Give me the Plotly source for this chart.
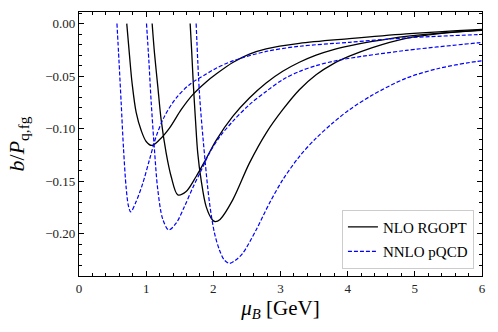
import plotly.graph_objects as go

# NLO RGOPT (black solid) - three curves
rg1_mu = [0.711, 0.7515, 0.791, 0.851, 0.925, 1.000, 1.084, 1.198, 1.347, 1.521, 1.694, 1.893, 2.042,
          2.289, 2.537, 2.786, 3.281, 4.025, 4.869, 5.930, 6.0]
rg1_b = [0.0, -0.0300, -0.0570, -0.0845, -0.1015, -0.1121, -0.1159, -0.1105, -0.0994, -0.0819, -0.0676, -0.0555, -0.0480,
         -0.0370, -0.0290, -0.0240, -0.0188, -0.0143, -0.0098, -0.0057, -0.0055]

rg2_mu = [1.089, 1.1235, 1.173, 1.223, 1.298, 1.372, 1.471, 1.595, 1.744, 1.893, 2.042, 2.289, 2.537,
          2.786, 3.033, 3.281, 3.530, 3.777, 4.025, 4.368, 4.869, 5.930, 6.0]
rg2_b = [0.0, -0.0279, -0.0597, -0.0914, -0.1232, -0.1454, -0.1629, -0.1597, -0.1454, -0.1285, -0.1110, -0.0883, -0.0708,
         -0.0565, -0.0454, -0.0368, -0.0300, -0.0250, -0.0212, -0.0170, -0.0121, -0.0064, -0.0062]

rg3_mu = [1.655, 1.679, 1.704, 1.734, 1.768, 1.818, 1.893, 1.991, 2.030, 2.100, 2.289, 2.537, 2.786,
          3.033, 3.281, 3.530, 3.777, 4.025, 4.368, 4.869, 5.365, 5.930, 6.0]
rg3_b = [0.0, -0.0279, -0.0597, -0.0914, -0.1232, -0.1486, -0.1740, -0.1870, -0.1883, -0.1862, -0.1676, -0.1327, -0.1041,
         -0.0819, -0.0629, -0.0486, -0.0385, -0.0310, -0.0228, -0.0140, -0.0095, -0.0067, -0.0065]

# NNLO pQCD (blue dashed) - three curves
pq1_mu = [0.565, 0.595, 0.628, 0.662, 0.702, 0.735, 0.770, 0.851, 0.950, 1.049, 1.149, 1.272, 1.446,
          1.644, 1.893, 2.042, 2.289, 2.786, 3.281, 4.025, 4.869, 5.930, 6.0]
pq1_b = [0.0, -0.0350, -0.0756, -0.1180, -0.1560, -0.1730, -0.1790, -0.1692, -0.1518, -0.1295, -0.1073, -0.0883, -0.0708,
         -0.0581, -0.0480, -0.0425, -0.0355, -0.0265, -0.0216, -0.0178, -0.0136, -0.0105, -0.0103]

pq2_mu = [1.005, 1.040, 1.074, 1.1235, 1.173, 1.247, 1.336, 1.446, 1.570, 1.694, 1.818, 1.942, 2.091,
          2.289, 2.537, 2.786, 3.033, 3.281, 3.530, 3.777, 4.025, 4.869, 5.930, 6.0]
pq2_b = [0.0, -0.0350, -0.0740, -0.1200, -0.1580, -0.1860, -0.1962, -0.1898, -0.1740, -0.1560, -0.1398, -0.1232, -0.1080,
         -0.0930, -0.0771, -0.0645, -0.0533, -0.0455, -0.0400, -0.0360, -0.0330, -0.0255, -0.0184, -0.0180]

pq3_mu = [1.744, 1.793, 1.853, 1.942, 2.020, 2.091, 2.160, 2.240, 2.330, 2.438, 2.637, 2.835, 3.033,
          3.281, 3.530, 3.777, 4.025, 4.368, 4.869, 5.365, 5.930, 6.0]
pq3_b = [0.0, -0.0660, -0.1136, -0.1700, -0.2000, -0.2152, -0.2245, -0.2280, -0.2250, -0.2184, -0.1962, -0.1708, -0.1486,
         -0.1264, -0.1089, -0.0946, -0.0819, -0.0680, -0.0520, -0.0425, -0.0359, -0.0355]

xticks = [0, 1, 2, 3, 4, 5, 6]
yticks = [0.0, -0.05, -0.10, -0.15, -0.20]

SERIF = "Liberation Serif"

fig = go.Figure()

rg = [(rg1_mu, rg1_b), (rg2_mu, rg2_b), (rg3_mu, rg3_b)]
pq = [(pq1_mu, pq1_b), (pq2_mu, pq2_b), (pq3_mu, pq3_b)]

for i, (x, y) in enumerate(rg):
    fig.add_trace(go.Scatter(
        x=x, y=y, mode="lines", name="NLO RGOPT",
        line=dict(color="black", width=1.3, shape="spline", smoothing=0.9),
        showlegend=(i == 0), legendgroup="rg",
    ))

for i, (x, y) in enumerate(pq):
    fig.add_trace(go.Scatter(
        x=x, y=y, mode="lines", name="NNLO pQCD",
        line=dict(color="#0000ff", width=1.2, dash="4px,2px", shape="spline", smoothing=0.9),
        showlegend=(i == 0), legendgroup="pq",
    ))

axis_common = dict(
    showgrid=False, zeroline=False,
    showline=True, linecolor="black", linewidth=1.2, mirror="allticks",
    ticks="inside", ticklen=5, tickwidth=1, tickcolor="black",
    tickfont=dict(family=SERIF, size=13, color="#222"),
)

fig.update_xaxes(
    range=[0, 6], tickvals=xticks,
    minor=dict(dtick=0.2, ticks="inside", ticklen=2.5, tickcolor="black"),
    title=dict(text="<i>μ</i><sub><i>B</i></sub> [GeV]", font=dict(family=SERIF, size=21, color="black"), standoff=3),
    **axis_common,
)
fig.update_yaxes(
    range=[-0.24, 0.011], tickvals=yticks, tickformat=".2f",
    minor=dict(dtick=0.01, ticks="inside", ticklen=2.5, tickcolor="black"),
    title=dict(text="<i>b</i>/<i>P</i><sub>q,fg</sub>", font=dict(family=SERIF, size=22, color="black"), standoff=14),
    **axis_common,
)

fig.update_layout(
    width=498, height=332,
    margin=dict(l=79, r=16, t=12, b=56),
    paper_bgcolor="white", plot_bgcolor="white",
    showlegend=True,
    legend=dict(
        x=0.98, y=0.028, xanchor="right", yanchor="bottom",
        bgcolor="white", bordercolor="#cccccc", borderwidth=1,
        font=dict(family=SERIF, size=15, color="black"),
        itemwidth=30, tracegroupgap=2,
    ),
)

# drop the browser's default 8px body margin so the figure sits at the page origin
fig.write_html("out.html", config={"displayModeBar": False},
               post_script="document.body.style.margin='0';")
